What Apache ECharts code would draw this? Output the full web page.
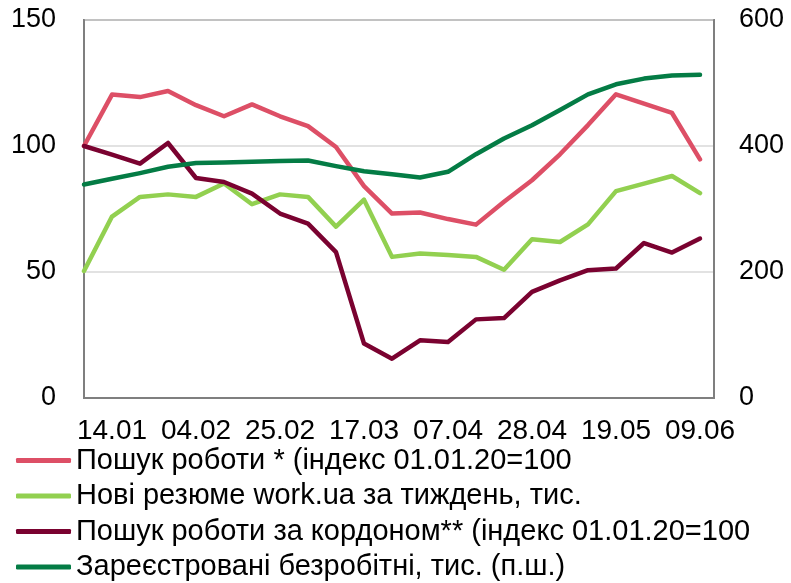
<!DOCTYPE html>
<html>
<head>
<meta charset="utf-8">
<script src="https://cdn.jsdelivr.net/npm/echarts@6/dist/echarts.min.js"></script>
<style>
	html, body { margin: 0; padding: 0; background: #fff; }
	#chart { width: 791px; height: 583px; }
</style>
</head>
<body>
<div id="chart"></div>
<script>
// 날짜 (주간)
var dates = ['07.01', '14.01', '21.01', '28.01', '04.02', '11.02', '18.02', '25.02', '03.03', '10.03', '17.03', '24.03',
	'31.03', '07.04', '14.04', '21.04', '28.04', '05.05', '12.05', '19.05', '26.05', '02.06', '09.06'];
// x축 라벨 위치 (3주 간격)
var labelIdx = [1, 4, 7, 10, 13, 16, 19, 22];

// 시리즈 이름
var names = [
	'Пошук роботи * (індекс 01.01.20=100',
	'Нові резюме work.ua за тиждень, тис.',
	'Пошук роботи за кордоном** (індекс 01.01.20=100',
	'Зареєстровані безробітні, тис. (п.ш.)'
];

// Пошук роботи (індекс)
var jobSearch = [100, 120.4, 119.4, 121.8, 116.2, 111.8, 116.5, 111.8, 107.9, 99.6, 84.1, 73.2,
	73.6, 71, 68.8, 77.9, 86.4, 96.7, 108.3, 120.5, 116.8, 113.1, 94.7];
// Нові резюме work.ua
var newCv = [50.4, 72, 79.8, 80.8, 79.8, 85.1, 76.9, 80.8, 79.8, 68, 78.7, 56,
	57.3, 56.7, 56, 50.9, 63, 61.9, 68.9, 82.1, 85.1, 88.1, 81.3];
// Пошук роботи за кордоном
var abroad = [100, 96.6, 93, 101.2, 87.3, 85.7, 81.1, 73.2, 69.2, 57.9, 21.6, 15.6,
	22.9, 22.2, 31.2, 31.7, 42.1, 46.7, 50.7, 51.4, 61.5, 57.7, 63.3];
// Зареєстровані безробітні (права вісь)
var unemployed = [339, 348, 357, 367, 373, 374, 375, 376, 377, 368, 360, 355,
	350, 359, 387, 412, 433, 457, 482, 498, 507, 512, 513];

var colors = ['#dd4f66', '#92d050', '#7a0230', '#047c45'];
var font = 'Liberation Sans, Arial, sans-serif';

function toPairs(arr) {
	return arr.map(function (v, i) { return [i, v]; });
}

function makeSeries(idx, data, yIdx) {
	return {
		name: names[idx],
		type: 'line',
		yAxisIndex: yIdx,
		data: toPairs(data),
		symbol: 'none',
		smooth: false,
		lineStyle: { color: colors[idx], width: 4.5, join: 'round', cap: 'round' },
		itemStyle: { color: colors[idx] },
		z: 3 + idx
	};
}

var chart = echarts.init(document.getElementById('chart'));
chart.setOption({
	animation: false,
	backgroundColor: '#fff',
	textStyle: { fontFamily: font },
	grid: {
		left: 84, right: 77, top: 20, bottom: 185,
		show: true, borderColor: '#7f7f7f', borderWidth: 2
	},
	legend: {
		orient: 'vertical',
		left: 16, top: 446,
		padding: 0,
		itemWidth: 55, itemHeight: 5, itemGap: 6.5,
		icon: 'roundRect',
		textStyle: { fontSize: 29, color: '#000', fontFamily: font },
		data: names
	},
	xAxis: {
		type: 'value',
		min: 0, max: 22.5,
		axisLine: { show: true, lineStyle: { color: '#7f7f7f', width: 2 } },
		axisTick: { show: false },
		splitLine: { show: false },
		axisLabel: {
			customValues: labelIdx,
			formatter: function (v) { return dates[v]; },
			fontSize: 28, color: '#000', margin: 19
		}
	},
	yAxis: [{
		type: 'value',
		min: 0, max: 150, interval: 50,
		axisLine: { show: true, lineStyle: { color: '#7f7f7f', width: 2 } },
		axisTick: { show: false },
		splitLine: { lineStyle: { color: '#d9d9d9', width: 1.5 } },
		axisLabel: { fontSize: 27, color: '#000', margin: 28 }
	}, {
		type: 'value',
		min: 0, max: 600, interval: 200,
		axisLine: { show: true, lineStyle: { color: '#7f7f7f', width: 2 } },
		axisTick: { show: false },
		splitLine: { show: false },
		axisLabel: { fontSize: 27, color: '#000', margin: 25 }
	}],
	series: [
		makeSeries(0, jobSearch, 0),
		makeSeries(1, newCv, 0),
		makeSeries(2, abroad, 0),
		makeSeries(3, unemployed, 1)
	]
});
</script>
</body>
</html>
